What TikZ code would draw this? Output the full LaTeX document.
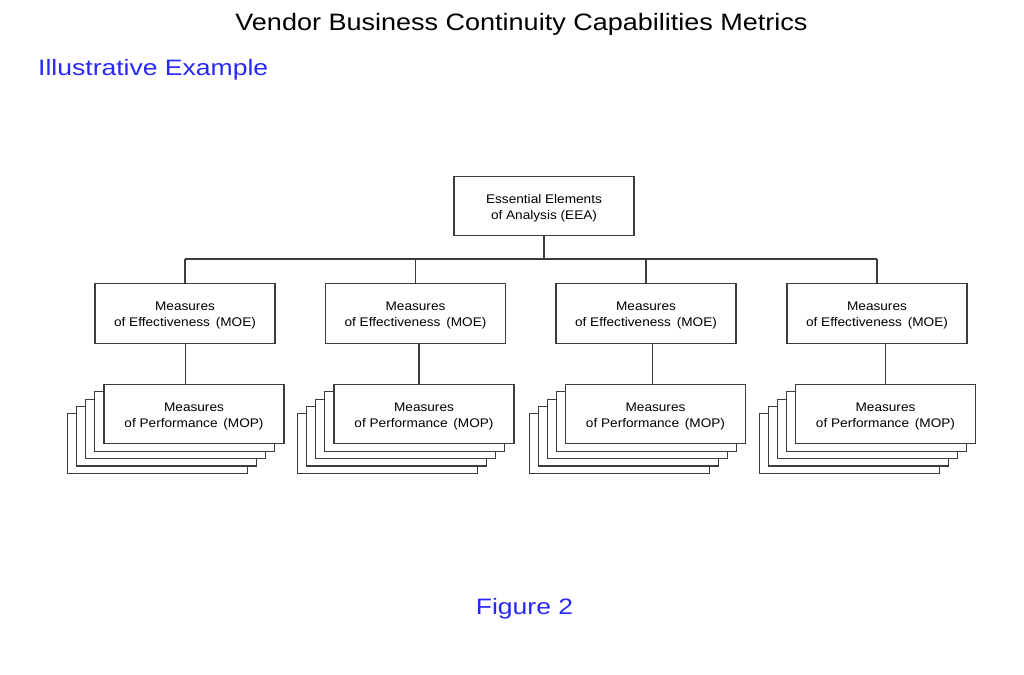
\documentclass[tikz,border=0pt]{standalone}
\usepackage{fontspec}
\setmainfont{Liberation Sans}
\newfontfamily\titlefont[FakeStretch=1.14]{Liberation Sans}
\newfontfamily\bluefont[FakeStretch=1.19]{Liberation Sans}
\newfontfamily\boxfont[FakeStretch=1.09]{Liberation Sans}
\definecolor{figblue}{RGB}{40,40,250}
\definecolor{linegray}{RGB}{60,60,60}
\newcommand{\upstrut}{\rule{0pt}{13pt}}
\begin{document}
\begin{tikzpicture}[x=1pt,y=-1pt,
  boxstyle/.style={draw=linegray,line width=1.1pt,fill=white,minimum width=180pt,minimum height=59.5pt,
    inner sep=0pt,align=center,font=\boxfont\fontsize{12.5}{16}\selectfont},
  conn/.style={draw=linegray,line width=1.1pt},
  bluetext/.style={text=figblue,inner sep=0pt,font=\bluefont\fontsize{22.3}{26}\selectfont}]
\useasboundingbox (0,0) rectangle (1024,674);
\node[inner sep=0pt,anchor=base,font=\titlefont\fontsize{23.7}{28}\selectfont] (title) at (521.5,31) {Vendor Business Continuity Capabilities Metrics};
\node[bluetext,anchor=base west] (illus) at (38,76) {Illustrative Example};
\node[bluetext,anchor=base] (fig) at (524.5,614) {Figure 2};

\node[boxstyle] (eea) at (544,206) {\upstrut Essential Elements\\of Analysis (EEA)};
\coordinate (bar) at (0,259);

\foreach \i/\mx/\fx/\lx in {1/185/194/185.7, 2/415.5/424/419, 3/646/655.5/652.3, 4/877/885.5/885.7}{
  \node[boxstyle] (moe\i) at (\mx,313.5) {\upstrut Measures\\of Effectiveness\hspace{2pt} (MOE)};
  \foreach \k in {4,3,2,1}{
    \node[boxstyle] (mop\i b\k) at ({\fx-9.1*\k},{414+7.4*\k}) {};
  }
  \node[boxstyle] (mop\i) at (\fx,414) {\upstrut Measures\\of Performance\hspace{2pt} (MOP)};
  \coordinate (top\i) at (\lx,343);
  \draw[conn] (moe\i.south -| top\i) -- (mop\i.north -| top\i);
  \draw[conn] (moe\i.north) -- (moe\i.north |- bar);
}
\draw[conn] (eea.south) -- (eea.south |- bar);
\draw[conn] (moe1.north |- bar) -- (moe4.north |- bar);
\end{tikzpicture}
\end{document}
